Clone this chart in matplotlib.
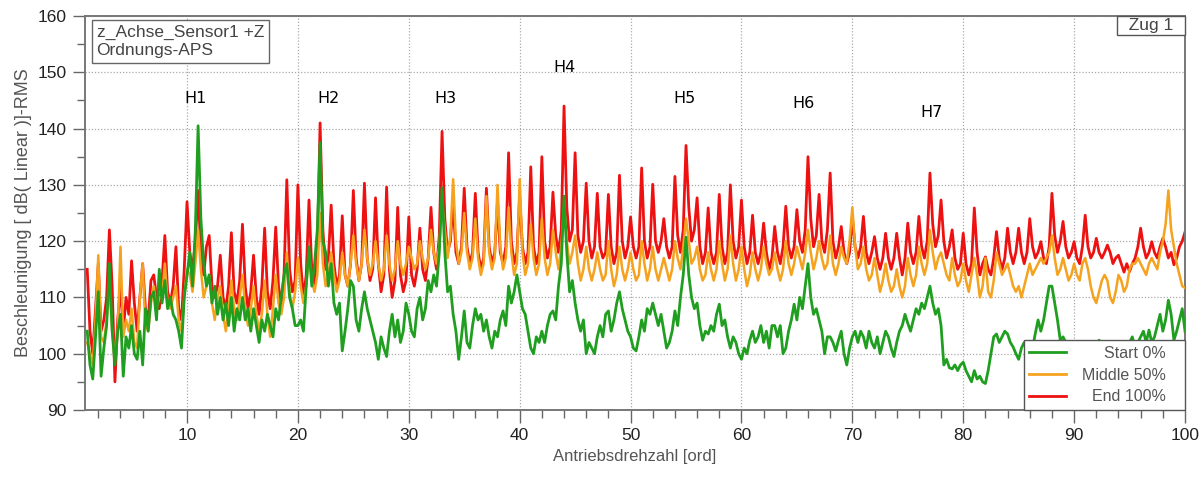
import numpy as np
import matplotlib
matplotlib.use("Agg")
import matplotlib.pyplot as plt
from matplotlib.ticker import MultipleLocator

# ---------------- data ----------------
# orders sampled every 0.25 from 1 to 100
orders = np.arange(1.0, 100.001, 0.25)

end_100 = [
    115, 104, 100, 108,   116, 104, 106, 110,   122, 112, 95, 106,   112, 104, 110, 107,
    116.5, 109, 104, 110,  116, 108, 106, 113,  114, 110, 108, 113,  121, 111, 109, 112,
    119, 108, 106, 115,   127, 118, 115, 120,   129, 118, 114, 119,   121, 112, 110, 112,
    117.5, 110, 108, 112,  121.5, 111, 109, 113, 123, 112, 108, 111,  117.5, 110, 107, 112,
    122.3, 111, 108, 113,  122.5, 112, 109, 114, 130.9, 115, 111, 113, 130, 116, 110, 114,
    127.3, 115, 112, 118,  141, 122, 115, 117,  126.4, 116, 112, 114,  124.5, 114, 112, 116,
    129, 117, 113, 116,   130.3, 117, 113, 115, 127.7, 116, 111, 114, 129.6, 115, 110, 113,
    126, 114, 111, 113,   124.3, 114, 112, 115, 122.3, 115, 113, 117, 126, 118, 115, 121,
    139.5, 124, 118, 120,  127, 118, 116, 119,  129.4, 119, 116, 118, 128.5, 118, 115, 117,
    129.4, 119, 116, 118,  127, 118, 116, 119,  135.7, 120, 116, 118, 128, 119, 116, 118,
    133.2, 119, 116, 118,  135, 120, 117, 119,  128.7, 121, 118, 122, 144, 126, 120, 122,
    135.7, 121, 118, 120,  130.3, 120, 117, 119, 128.5, 119, 117, 118, 128.3, 119, 116, 118,
    131.7, 120, 117, 119,  124.3, 119, 117, 119, 133, 120, 117, 119,  130.1, 120, 118, 120,
    124, 119, 117, 119,   131.5, 121, 118, 122, 137, 126, 120, 122,  127.7, 119, 116, 118,
    125.9, 118, 116, 118,  128.3, 119, 116, 118, 130, 120, 117, 119,  127.3, 119, 116, 118,
    124.6, 118, 116, 118,  123.2, 118, 115, 117, 122.6, 118, 116, 119, 126.2, 119, 117, 119,
    125.6, 120, 118, 122,  135, 124, 119, 121,  128.3, 120, 118, 122, 132.1, 120, 117, 119,
    122.6, 118, 116, 118,  124.4, 119, 117, 119, 124.4, 118, 116, 118, 120.8, 117, 115, 117,
    121.4, 117, 115, 117,  121.4, 117, 114, 117, 123.2, 118, 116, 118, 124.4, 119, 117, 120,
    132.1, 123, 119, 121,  127.3, 120, 117, 119, 122, 117, 115, 116,  121.4, 116, 114, 116,
    125.9, 118, 114, 116,  117.2, 115, 114, 117, 121.7, 117, 115, 117, 122.3, 118, 116, 118,
    122.3, 118, 116, 118,  124, 119, 117, 118,  119.9, 117, 116, 119, 128.5, 121, 118, 120,
    123.5, 119, 117, 118,  119.9, 117, 116, 119, 124.6, 119, 117, 118, 120.5, 118, 117, 118,
    119.3, 118, 116, 117,  117.5, 116, 114.5, 116, 114.6, 116, 117, 119, 122.3, 119, 117, 118,
    119.9, 118, 117, 119,  120.5, 119, 117, 118, 115.8, 117, 119, 120,
    121.6,
]

middle_50 = [
    102, 100, 98, 106,    117.5, 103, 102, 106, 112, 104, 99, 104,   119, 103, 106, 104,
    108, 102, 101, 110,   116, 105, 104, 109,   112, 108, 110, 110,   116, 109, 108, 110,
    112, 106, 104, 110,   115, 114, 111, 116,   122, 115, 110, 112,   114, 109, 106, 110,
    112, 107, 104, 108,   113, 108, 106, 110,   114, 108, 105, 108,   112, 107, 104, 107,
    113, 107, 103, 108,   114, 109, 107, 110,   118, 111, 108, 111,   117, 112, 109, 112,
    118, 113, 111, 114,   125, 116, 112, 114,   118, 114, 111, 113,   118, 114, 112, 116,
    121, 116, 113, 116,   122, 117, 114, 116,   120, 116, 113, 115,   121, 116, 113, 115,
    120, 116, 114, 116,   119, 117, 115, 116,   120, 117, 115, 117,   122, 118, 116, 119,
    127, 122, 117, 121,   131, 120, 116, 118,   125, 118, 115, 117,   124, 117, 114, 116,
    128, 118, 115, 117,   130, 119, 115, 117,   126, 118, 114, 116,   131, 118, 114, 116,
    123, 117, 114, 116,   124, 117, 114, 116,   122, 118, 115, 119,   126, 120, 116, 118,
    121, 116, 113, 115,   119, 115, 113, 115,   118, 115, 113, 114,   120, 115, 112, 114,
    119, 115, 113, 115,   118, 115, 113, 114,   120, 116, 113, 115,   119, 115, 113, 115,
    117, 115, 113, 115,   120, 117, 115, 119,   124, 120, 116, 117,   119, 115, 113, 114,
    118, 115, 113, 115,   120, 116, 113, 115,   121, 116, 113, 115,   119, 115, 112, 114,
    118, 115, 113, 115,   119, 116, 114, 115,   118, 115, 113, 115,   120, 116, 114, 116,
    119, 117, 115, 118,   122, 118, 115, 117,   120, 117, 115, 116,   121, 116, 114, 116,
    119, 117, 116, 120,   126, 119, 115, 116,   119, 115, 113, 114,   117, 114, 111, 113,
    116, 113, 111, 112,   115, 112, 110, 112,   117, 114, 112, 114,   119, 116, 114, 116,
    122, 118, 115, 117,   118, 116, 114, 113,   117, 114, 112, 113,   116, 113, 111, 114,
    117, 114, 110, 112,   117, 111, 110, 113,   118, 116, 114, 115,   116, 114, 112, 111,
    112, 110, 112, 114,   116, 114, 115, 116,   117, 116, 117, 118,   121, 117, 114, 115,
    117, 115, 113, 114,   116, 114, 113, 116,   117, 115, 112, 110,   109, 111, 113, 114,
    113, 110, 109, 111,   114, 113, 111, 112,   115, 116, 116, 117,   116, 115, 114, 116,
    117, 116, 115, 118,   120, 123, 129, 122,   119, 116, 114, 112,
    111.7,
]

start_0 = [
    104, 98, 95.5, 103,   111, 96, 101, 105,   116, 104, 98, 104,   107, 96, 103, 101,
    105, 100, 99, 104,    98, 108, 104, 110,   111, 106, 115, 109,   113, 108, 110, 107,
    106, 104, 101, 110,   114, 118, 112, 122,   140.5, 124, 116, 112, 114, 109, 112, 107,
    110, 106, 109, 105,   110, 104, 108, 106,   110, 106, 108, 104,   108, 105, 102, 106,
    104, 107, 105, 103,   108, 106, 110, 114,   116, 110, 108, 105,   105, 106, 104, 112,
    119, 112, 116, 122,   137.5, 120, 118, 112, 116, 109, 107, 109,   100.5, 104, 108, 113,
    112, 106, 104, 108,   111, 108, 106, 104,   102, 99, 103, 101,    99.5, 104, 107, 103,
    106, 102, 104, 109,   107, 104, 103, 108,   110, 106, 108, 113,   111, 114, 112, 118,
    129.5, 118, 111, 112, 107, 104, 99, 103,   107.6, 102, 101, 105, 108, 106, 107, 104,
    106, 103, 101, 104,   103, 106, 107.6, 105, 112, 109, 111, 114,   111, 108, 107, 104,
    101, 100, 103, 102,   104, 102, 105, 107,   107.6, 106, 112, 116, 128, 118, 111, 113,
    109, 106, 104, 106,   100, 102, 101, 100,   103, 105, 103, 107,   107.6, 104, 106, 109,
    111, 108, 106, 104,   103, 101, 100.5, 103, 106, 104, 108, 107,   109, 107, 105, 107,
    104, 101, 102, 104,   107.6, 105, 110, 114, 120.7, 114, 110, 108, 109, 105, 102.4, 104,
    103.5, 105, 104, 107, 108.8, 105, 106, 103, 101, 103, 102, 100,   99, 101, 100, 102.4,
    104, 102, 103, 105,   102, 104, 101, 105,   105, 103, 105, 100,   101, 104, 106, 108.8,
    106, 110, 108, 112,   116, 110, 107, 108,   106, 104, 100, 103,   103, 102, 100.5, 102.4,
    104, 100, 98, 101,    103, 104, 102, 104,   103, 101, 104, 102,   101, 103, 100, 102,
    104, 103, 101, 99.5,  102, 104, 105, 107,   105.4, 104, 106, 108, 107, 109, 108, 110,
    112, 109, 107, 108,   105, 98, 99, 97.5,    97.3, 98, 97, 98,     98.5, 97, 96, 95,
    97, 95.5, 96, 95,     94.7, 97, 100, 103,   103.5, 102, 103, 104, 103.5, 102, 101.2, 100,
    99, 101, 102, 101,    99, 101, 103.6, 106,  104, 106, 109, 112,   112, 109, 106, 102.4,
    103, 102, 100.5, 101, 102, 101, 100, 101,   100, 101, 102, 100,   101, 102.4, 101, 100,
    100, 102, 101, 100,   101, 100, 102, 101,   102, 103, 101, 102,   103, 104, 102, 104.2,
    102, 103, 105, 107,   104, 106, 109.5, 107, 102.4, 104, 106, 108,
    104,
]

series_labels = ["Start 0%", "Middle 50%", "End 100%"]
series_colors = ["#1f9e1f", "#f5a21e", "#ee1111"]

harmonic_labels = ["H1", "H2", "H3", "H4", "H5", "H6", "H7"]
harmonic_x = [10.8, 22.8, 33.3, 44.0, 54.9, 65.6, 77.1]
harmonic_y = [145.4, 145.4, 145.4, 150.8, 145.4, 144.5, 142.8]

x_ticks = [10, 20, 30, 40, 50, 60, 70, 80, 90, 100]
y_ticks = [90, 100, 110, 120, 130, 140, 150, 160]


def fit(vals):
    vals = list(vals)[: len(orders)]
    n = len(vals)
    return orders[:n], np.array(vals, dtype=float)


# ---------------- figure ----------------
DPI = 100
fig = plt.figure(figsize=(12.02, 4.79), dpi=DPI)
ax = fig.add_axes([85 / 1202, 1 - 410 / 479, 1100 / 1202, 394 / 479])

font = "Liberation Sans"
grey_txt = "#555555"

xr, yr = fit(end_100)
xm, ym = fit(middle_50)
xs, ys = fit(start_0)
l_red, = ax.plot(xr, yr, color=series_colors[2], lw=2.0, zorder=2, label=series_labels[2])
l_org, = ax.plot(xm, ym, color=series_colors[1], lw=1.8, zorder=3, label=series_labels[1])
l_grn, = ax.plot(xs, ys, color=series_colors[0], lw=2.0, zorder=4, label=series_labels[0])

ax.set_xlim(0.8, 100)
ax.set_ylim(90, 160)
ax.set_xticks(x_ticks)
ax.set_yticks(y_ticks)
ax.xaxis.set_minor_locator(MultipleLocator(2))
ax.yaxis.set_minor_locator(MultipleLocator(5))
ax.tick_params(axis="both", which="major", direction="out", length=9, width=1,
               color="#666666", labelsize=12.5, labelcolor="#222222", pad=4)
ax.tick_params(axis="both", which="minor", direction="out", length=6, width=1,
               color="#666666")
for lab in ax.get_xticklabels() + ax.get_yticklabels():
    lab.set_fontfamily(font)

ax.grid(True, which="major", linestyle=(0, (1, 1.5)), color="#aaaaaa", lw=0.9, zorder=0)
for s in ax.spines.values():
    s.set_color("#777777")
    s.set_linewidth(1.4)

ax.set_xlabel("Antriebsdrehzahl [ord]", fontsize=12, color=grey_txt,
              fontfamily=font, labelpad=4)
ax.set_ylabel("Beschleunigung [ dB( Linear )]-RMS", fontsize=13, color=grey_txt,
              fontfamily=font, labelpad=4)

for lab, hx, hy in zip(harmonic_labels, harmonic_x, harmonic_y):
    ax.text(hx, hy, lab, ha="center", va="center", fontsize=11.5,
            fontfamily="DejaVu Sans", color="black", zorder=6)

# info box top-left
ax.text(0.0105, 0.978, "z_Achse_Sensor1 +Z\nOrdnungs-APS", transform=ax.transAxes,
        ha="left", va="top", fontsize=12.5, fontfamily=font, color="#444444",
        linespacing=1.3, zorder=7,
        bbox=dict(boxstyle="square,pad=0.28", fc="white", ec="#666666", lw=1.0))

# Zug box top-right
ax.text(0.9985, 0.994, "  Zug 1  ", transform=ax.transAxes, ha="right", va="top",
        fontsize=12.5, fontfamily=font, color="#444444", zorder=7,
        bbox=dict(boxstyle="square,pad=0.12", fc="white", ec="#555555", lw=1.0))

# legend
leg = ax.legend(handles=[l_grn, l_org, l_red],
                labels=[l + "   " for l in series_labels],
                loc="lower right", bbox_to_anchor=(1.0, 0.0), borderaxespad=0.0,
                prop={"family": font, "size": 11.5}, frameon=True, fancybox=False,
                framealpha=1.0, edgecolor="#555555", handlelength=2.3,
                handletextpad=1.0, labelspacing=0.42, borderpad=0.35)
leg.get_frame().set_linewidth(1.0)
leg.set_zorder(10)
for t in leg.get_texts():
    t.set_color(grey_txt)
for h in leg.legend_handles:
    h.set_linewidth(2.0)

# right-align the legend texts
try:
    fig.canvas.draw()
    r = fig.canvas.get_renderer()
    widths = [t.get_window_extent(r).width for t in leg.get_texts()]
    maxw = max(widths)
    col = leg._legend_handle_box.get_children()[0]
    rows = col.get_children()
    for row, w in zip(rows, widths):
        row.sep = row.sep + (maxw - w) * 72.0 / DPI
except Exception:
    pass

fig.savefig("out.png", dpi=DPI, facecolor="white")
